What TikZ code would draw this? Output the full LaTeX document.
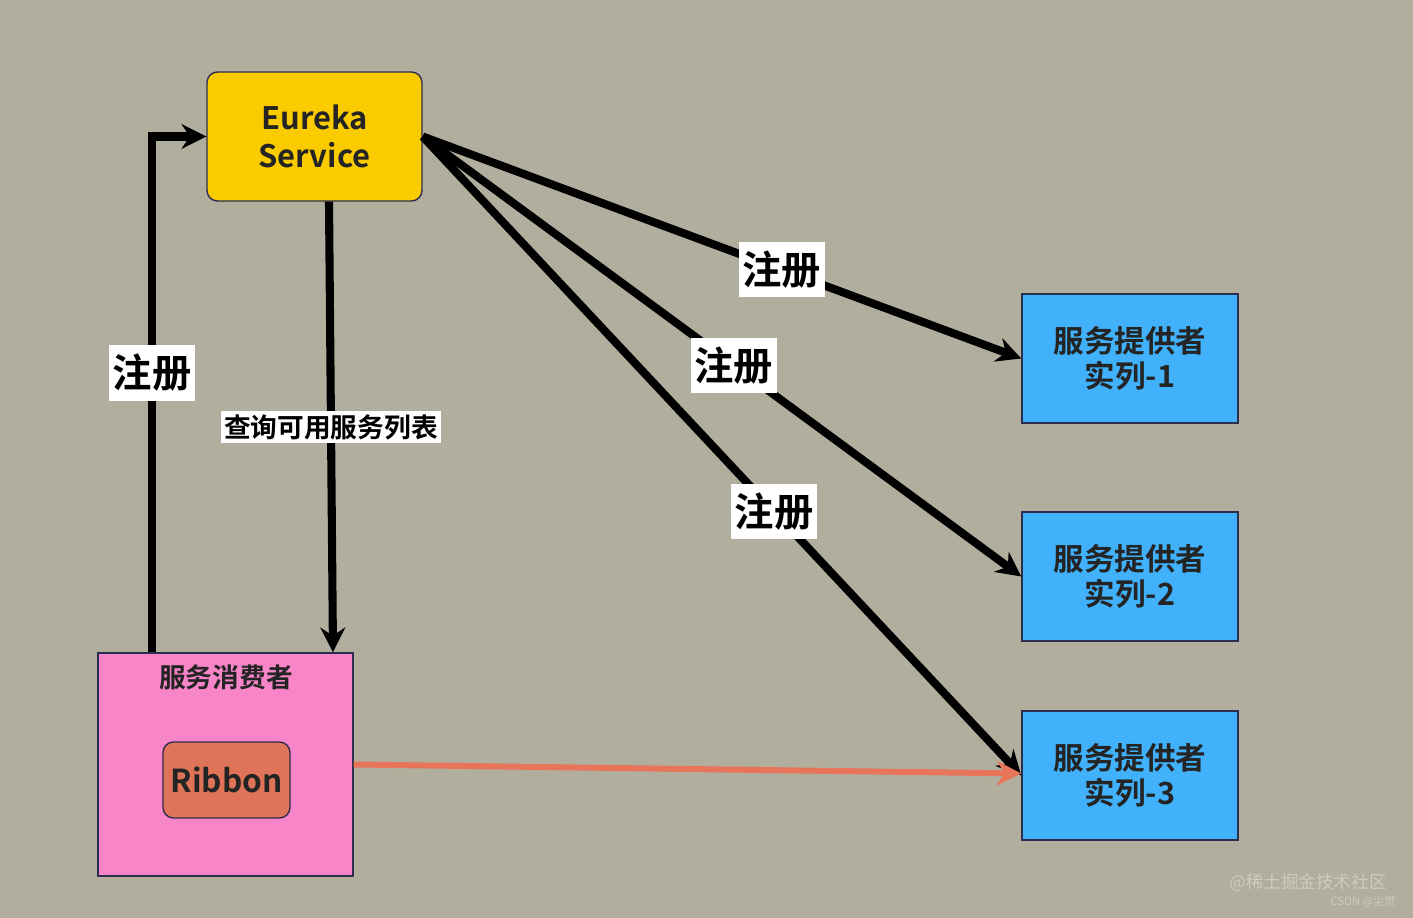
\documentclass[tikz,border=0pt]{standalone}
\usepackage{fontspec}
\setmainfont{Noto Sans CJK SC}[BoldFont={Noto Sans CJK SC Bold}]
\usetikzlibrary{arrows.meta}

\definecolor{bgcol}{RGB}{178,174,158}
\definecolor{eurekacol}{RGB}{250,204,0}
\definecolor{providercol}{RGB}{64,177,250}
\definecolor{consumercol}{RGB}{247,133,200}
\definecolor{ribboncol}{RGB}{224,116,88}
\definecolor{callcol}{RGB}{232,116,90}
\definecolor{inkcol}{RGB}{36,36,36}
\definecolor{edgecol}{RGB}{45,45,80}
\definecolor{markcol}{RGB}{206,202,192}

\newcommand{\sz}[2]{\fontsize{#1}{#2}\selectfont\bfseries}

\begin{document}
\begin{tikzpicture}[>={Stealth[length=7pt,width=7pt]}, line width=2.3pt,
    box/.style={draw=edgecol, line width=0.4pt, text=inkcol, align=center,
                minimum width=2.16cm, minimum height=1.29cm, inner sep=0pt},
    provider/.style={box, fill=providercol, font=\sz{8.7pt}{10pt}},
    tag/.style={fill=white, text=black, inner xsep=1pt, inner ysep=2.5pt}]

    % Canvas
    \fill[bgcol] (0,0) rectangle (14.13,-9.18);
    \useasboundingbox (0,0) rectangle (14.13,-9.18);

    % Registry
    \node[box, fill=eurekacol, rounded corners=3pt, minimum width=2.15cm,
          font=\sz{8.8pt}{11pt}] (eureka) at (3.145,-1.365) {Eureka\\Service};

    % Providers
    \node[provider] (prov1) at (11.30,-3.585) {服务提供者\\实列-1};
    \node[provider] (prov2) at (11.30,-5.765) {服务提供者\\实列-2};
    \node[provider] (prov3) at (11.30,-7.755) {服务提供者\\实列-3};

    % Consumer with Ribbon inside
    \node[box, fill=consumercol, minimum width=2.55cm, minimum height=2.23cm] (cons) at (2.255,-7.645) {};
    \node[text=inkcol, font=\sz{7.6pt}{9pt}] (constitle) at (2.26,-6.77) {服务消费者};
    \node[box, fill=ribboncol, rounded corners=3pt, minimum width=1.27cm, minimum height=0.76cm,
          font=\sz{9pt}{10pt}] (ribbon) at (2.265,-7.80) {Ribbon};

    % Register consumer
    \draw[->] ([xshift=-7.35mm]cons.north) |- (eureka.west);
    \node[tag, font=\sz{11.2pt}{12pt}] (regc) at (1.52,-3.73) {注册};

    % Fetch list
    \draw[->] ([xshift=1.45mm]eureka.south) -- ([xshift=10.75mm]cons.north)
        node[tag, inner ysep=1pt, pos=0.50, font=\sz{7.6pt}{9pt}] (fetch) {查询可用服务列表};

    % Register providers
    \draw[->] (eureka.east) -- (prov1.west) node[tag, pos=0.60, font=\sz{11.2pt}{12pt}] (reg1) {注册};
    \draw[->] (eureka.east) -- (prov2.west) node[tag, pos=0.52, font=\sz{11.2pt}{12pt}] (reg2) {注册};
    \draw[->] (eureka.east) -- (prov3.west) node[tag, pos=0.587, font=\sz{11.2pt}{12pt}] (reg3) {注册};

    % Call
    \draw[->, callcol, line width=1.7pt] (cons.east) -- ([yshift=0.2mm]prov3.west);

    % Marks
    \node[text=markcol, font=\fontsize{5pt}{6pt}\selectfont] (mark1) at (13.08,-8.83) {@稀土掘金技术社区};
    \node[text=markcol, font=\fontsize{3.2pt}{4pt}\selectfont] (mark2) at (13.63,-9.02) {CSDN @尘觉};

\end{tikzpicture}
\end{document}
